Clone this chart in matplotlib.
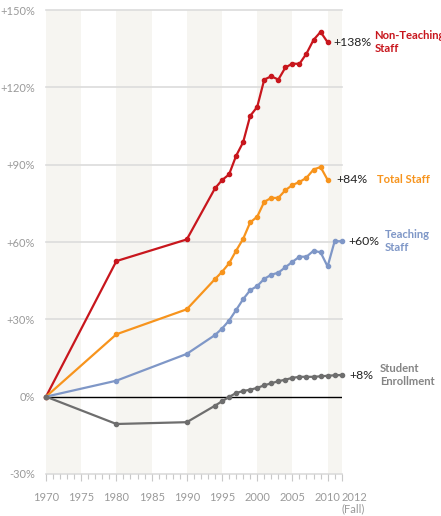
import matplotlib.pyplot as plt
import numpy as np

plt.rcParams['font.family'] = ['Lato', 'DejaVu Sans']

years = [1970, 1980, 1990] + list(range(1994, 2013))

# percent change since 1970
non_teaching = [0, 52.6, 61.0, 80.8, 84.0, 86.2, 93.4, 98.7, 108.9, 112.4, 123.0,
                124.3, 123.0, 127.7, 129.2, 129.1, 133.1, 138.4, 141.5, 137.5]
total_staff = [0, 24.2, 33.9, 45.6, 48.4, 51.7, 56.6, 61.2, 67.6, 69.8, 75.6,
               77.1, 77.1, 80.1, 82.1, 83.3, 84.9, 88.1, 89.1, 84.1]
teaching = [0, 6.2, 16.6, 23.9, 26.4, 29.5, 33.6, 37.8, 41.3, 42.9, 45.7, 47.3,
            48.1, 50.2, 52.3, 54.3, 54.3, 56.6, 56.0, 50.5, 60.3, 60.3]
students = [0, -10.6, -9.9, -3.5, -1.8, -0.1, 1.4, 2.2, 2.7, 3.4, 4.4, 5.2, 6.0,
            6.6, 7.3, 7.7, 7.7, 7.7, 7.9, 8.1, 8.3, 8.4]

end_labels = ['+138%', '+84%', '+60%', '+8%']
names = ['Non-Teaching\nStaff', 'Total Staff', 'Teaching\nStaff', 'Student\nEnrollment']
colors = ['#c8161d', '#f7941d', '#7f97c7', '#6e6e6e']
name_colors = ['#c8161d', '#f7941d', '#7f97c7', '#858585']

fig = plt.figure(figsize=(4.41, 5.16), dpi=100)
ax = fig.add_axes([0.1043, 0.0814, 0.6705, 0.8992])

# alternating background bands
for a, b in [(1970, 1975), (1980, 1985), (1990, 1995), (2000, 2005), (2010, 2012)]:
    ax.axvspan(a, b, color='#f6f5f1', lw=0, zorder=0)

for yv in [30, 60, 90, 120, 150, -30]:
    ax.axhline(yv, color='#dcdcdc', lw=1.2, zorder=1, clip_on=False)
ax.axhline(0, color='black', lw=1.0, zorder=2)

series = [non_teaching, total_staff, teaching, students]
# offsets (px) of value label and name label from the last point
val_dx = [5.5, 9, 7, 8]
name_dx = [47, 49, 43, 38]
for vals, c, nc, lab, nm, vdx, ndx in zip(series, colors, name_colors,
                                         end_labels, names, val_dx, name_dx):
    xs = years[:len(vals)]
    ax.plot(xs, vals, color=c, lw=1.6, marker='o', ms=3.0, zorder=3, clip_on=False)
    ax.annotate(lab, (xs[-1], vals[-1]), xytext=(vdx * 0.72, 0),
                textcoords='offset points', ha='left', va='center',
                fontsize=8.8, color='#222222', annotation_clip=False)
    ax.annotate(nm, (xs[-1], vals[-1]), xytext=(ndx * 0.72, 0),
                textcoords='offset points', ha='left', va='center',
                fontsize=8.1, fontweight='bold', color=nc, linespacing=1.2,
                annotation_clip=False)

ax.set_xlim(1970, 2012)
ax.set_ylim(-30, 150)
for s in ax.spines.values():
    s.set_visible(False)

yt = [-30, 0, 30, 60, 90, 120, 150]
ax.set_yticks(yt)
ax.set_yticklabels(['-30%', '0%', '+30%', '+60%', '+90%', '+120%', '+150%'])
ax.tick_params(axis='y', length=0, pad=8, labelsize=8, labelcolor='#9a9a9a')

xt = list(range(1970, 2011, 5)) + [2012]
ax.set_xticks(xt)
ax.set_xticklabels([str(v) for v in xt[:-1]] + ['2012\n(Fall)'])
ax.set_xticks(range(1970, 2013), minor=True)
ax.tick_params(axis='x', which='major', length=5, width=0.8, color='#c8c8c8',
               pad=8, labelsize=8, labelcolor='#9a9a9a')
ax.tick_params(axis='x', which='minor', length=3.6, width=0.8, color='#c8c8c8')
last = ax.get_xticklabels()[-1]
last.set_horizontalalignment('left')
last.set_linespacing(1.0)
last.set_x(2012)

fig.savefig('out.png', dpi=100)
